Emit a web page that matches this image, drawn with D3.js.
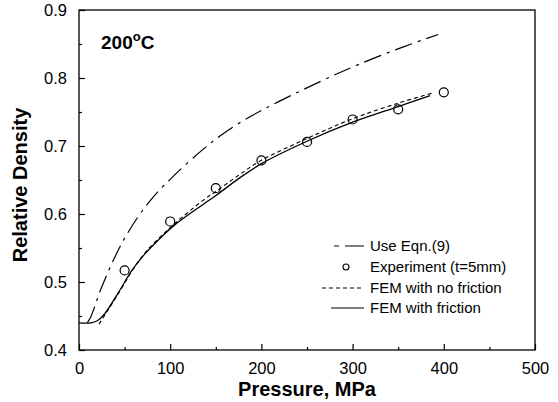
<!DOCTYPE html>
<html>
<head>
<meta charset="utf-8">
<script src="https://cdn.jsdelivr.net/npm/d3@7"></script>
<style>
body { margin: 0; background: #fff; }
svg { font-family: Arial, "Liberation Sans", sans-serif; }
</style>
</head>
<body>
<svg id="chart"></svg>
<script>
// values
var eqnP = [9, 13, 25, 49, 77, 103, 136, 160, 190, 220, 268, 305, 352, 394]
var eqnD = [0.44, 0.449, 0.493, 0.562, 0.618, 0.655, 0.695, 0.72, 0.745, 0.766, 0.797, 0.819, 0.844, 0.864]

var expP = [50, 100, 150, 200, 250, 300, 350, 400]
var expD = [0.517, 0.589, 0.638, 0.679, 0.706, 0.739, 0.754, 0.779]

var noFricP = [22, 30, 45, 60, 75, 92, 105, 136, 151, 175, 200, 250, 300, 350, 388]
var noFricD = [0.438, 0.455, 0.487, 0.52, 0.547, 0.57, 0.586, 0.62, 0.634, 0.657, 0.679, 0.711, 0.74, 0.763, 0.778]

var fricP = [0, 13, 20, 28, 43, 58, 72, 91, 105, 136, 151, 175, 200, 250, 300, 350, 385]
var fricD = [0.44, 0.44, 0.443, 0.453, 0.484, 0.517, 0.541, 0.567, 0.584, 0.614, 0.628, 0.652, 0.674, 0.707, 0.735, 0.758, 0.774]

var xTicks = [0, 100, 200, 300, 400, 500]
var yTicks = [0.4, 0.5, 0.6, 0.7, 0.8, 0.9]

var legendLabels = ["Use Eqn.(9)", "Experiment (t=5mm)", "FEM with no friction", "FEM with friction"]

var width = 558
var height = 402
var margin = {left: 79, right: 23, top: 10, bottom: 52}

var svg = d3.select('#chart')
            .attr('width', width)
            .attr('height', height)

var xScale = d3.scaleLinear()
               .domain([0, 500])
               .range([margin.left, width - margin.right])

var yScale = d3.scaleLinear()
               .domain([0.4, 0.9])
               .range([height - margin.bottom, margin.top])

var toPts = function(xs, ys){
  return xs.map(function(d, i){ return [d, ys[i]] })
}

var line = d3.line()
             .x(function(d){ return xScale(d[0]) })
             .y(function(d){ return yScale(d[1]) })
             .curve(d3.curveCatmullRom.alpha(0.5))

// frame
svg.append('rect')
   .attr('x', xScale(0))
   .attr('y', yScale(0.9))
   .attr('width', xScale(500) - xScale(0))
   .attr('height', yScale(0.4) - yScale(0.9))
   .attr('fill', 'none')
   .attr('stroke', '#000')
   .attr('stroke-width', 1.3)

// axes with inward ticks
var xAxis = svg.append('g')
               .attr('transform', 'translate(0,' + yScale(0.4) + ')')
               .call(d3.axisBottom(xScale).tickValues(xTicks).tickSizeInner(-6).tickSizeOuter(0).tickPadding(12))
xAxis.select('.domain').remove()
svg.append('g')
   .attr('transform', 'translate(0,' + yScale(0.4) + ')')
   .call(d3.axisBottom(xScale).tickValues([50, 150, 250, 350, 450]).tickSize(-3).tickFormat(''))
   .select('.domain').remove()

var yAxis = svg.append('g')
               .attr('transform', 'translate(' + xScale(0) + ',0)')
               .call(d3.axisLeft(yScale).tickValues(yTicks).tickSizeInner(-6).tickSizeOuter(0).tickPadding(12).tickFormat(d3.format('.1f')))
yAxis.select('.domain').remove()
svg.append('g')
   .attr('transform', 'translate(' + xScale(0) + ',0)')
   .call(d3.axisLeft(yScale).tickValues([0.45, 0.55, 0.65, 0.75, 0.85]).tickSize(-3).tickFormat(''))
   .select('.domain').remove()

svg.selectAll('.tick line').attr('stroke-width', 1.2)
svg.selectAll('.tick text')
   .attr('font-size', 16.5)
   .attr('font-family', 'Arial, "Liberation Sans", sans-serif')
   .attr('fill', '#000')

// axis titles
svg.append('text')
   .attr('x', (xScale(0) + xScale(500)) / 2)
   .attr('y', 396)
   .attr('text-anchor', 'middle')
   .attr('font-size', 20)
   .attr('font-weight', 'bold')
   .text('Pressure, MPa')

svg.append('text')
   .attr('transform', 'translate(27,185) rotate(-90)')
   .attr('text-anchor', 'middle')
   .attr('font-size', 20)
   .attr('font-weight', 'bold')
   .text('Relative Density')

var title = svg.append('text')
   .attr('x', 101)
   .attr('y', 49)
   .attr('font-size', 19)
   .attr('font-weight', 'bold')
title.append('tspan').text('200')
title.append('tspan').attr('font-size', 13).attr('dy', -8).text('o')
title.append('tspan').attr('dy', 8).text('C')

// curves
var plot = svg.append('g')

plot.append('path')
    .attr('d', line(toPts(eqnP, eqnD)))
    .attr('fill', 'none')
    .attr('stroke', '#000')
    .attr('stroke-width', 1.2)
    .attr('stroke-dasharray', '18,6,3,6')

plot.append('path')
    .attr('d', line(toPts(noFricP, noFricD)))
    .attr('fill', 'none')
    .attr('stroke', '#000')
    .attr('stroke-width', 1.1)
    .attr('stroke-dasharray', '4,3')

plot.append('path')
    .attr('d', line(toPts(fricP, fricD)))
    .attr('fill', 'none')
    .attr('stroke', '#000')
    .attr('stroke-width', 1.3)

plot.selectAll('circle')
    .data(toPts(expP, expD))
    .enter()
    .append('circle')
    .attr('cx', function(d){ return xScale(d[0]) })
    .attr('cy', function(d){ return yScale(d[1]) })
    .attr('r', 4.5)
    .attr('fill', 'none')
    .attr('stroke', '#000')
    .attr('stroke-width', 1.2)

// legend
var legend = svg.append('g')
var rowY = [246, 267, 288, 308]

legend.selectAll('text')
      .data(legendLabels)
      .enter()
      .append('text')
      .attr('x', 370)
      .attr('y', function(d, i){ return rowY[i] })
      .attr('dy', '0.35em')
      .attr('font-size', 15)
      .text(function(d){ return d })

legend.append('line')
      .attr('x1', 334).attr('x2', 364)
      .attr('y1', rowY[0]).attr('y2', rowY[0])
      .attr('stroke', '#000').attr('stroke-width', 1.1)
      .attr('stroke-dasharray', '5,6,30')
legend.append('circle')
      .attr('cx', 346).attr('cy', rowY[1]).attr('r', 3)
      .attr('fill', 'none').attr('stroke', '#000').attr('stroke-width', 1.1)
legend.append('line')
      .attr('x1', 322).attr('x2', 364)
      .attr('y1', rowY[2]).attr('y2', rowY[2])
      .attr('stroke', '#000').attr('stroke-width', 1.1)
      .attr('stroke-dasharray', '4,3')
legend.append('line')
      .attr('x1', 331).attr('x2', 364)
      .attr('y1', rowY[3]).attr('y2', rowY[3])
      .attr('stroke', '#000').attr('stroke-width', 1.2)
</script>
</body>
</html>
